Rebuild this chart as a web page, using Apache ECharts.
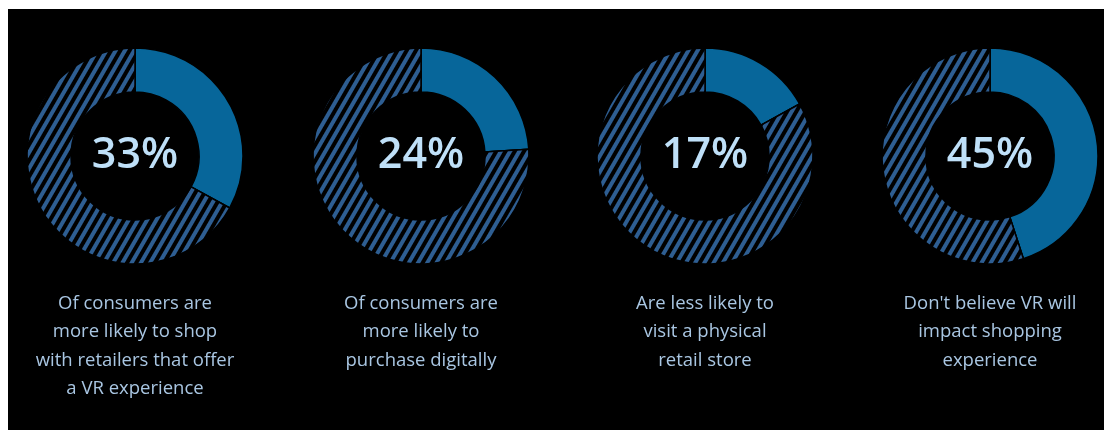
<!DOCTYPE html>
<html>
<head>
<meta charset="utf-8">
<script src="https://cdn.jsdelivr.net/npm/echarts@6/dist/echarts.min.js"></script>
<style>
html,body{margin:0;padding:0;background:#ffffff;}
#c{position:absolute;left:8px;top:9px;width:1096px;height:421px;background:#000;}
</style>
</head>
<body>
<div id="c"></div>
<script>
const values = [33, 24, 17, 45];
const percentLabels = ['33%', '24%', '17%', '45%'];
const captions = [
  ['Of consumers are', 'more likely to shop', 'with retailers that offer', 'a VR experience'],
  ['Of consumers are', 'more likely to', 'purchase digitally'],
  ['Are less likely to', 'visit a physical', 'retail store'],
  ["Don't believe VR will", 'impact shopping', 'experience']
];

const chart = echarts.init(document.getElementById('c'), null, {renderer: 'canvas'});
const centersX = [127, 413, 697, 982];
const centerY = 147;
const series = [];
const graphics = [];
values.forEach((v, i) => {
  series.push({
    type: 'pie',
    center: [centersX[i], centerY],
    radius: [64, 108],
    startAngle: 90,
    clockwise: true,
    silent: true,
    label: {show: false},
    labelLine: {show: false},
    itemStyle: {borderColor: '#000', borderWidth: 1.5},
    data: [
      {value: v, itemStyle: {color: '#07669a'}},
      {value: 100 - v, itemStyle: {
        color: '#000',
        decal: {
          symbol: 'rect',
          symbolSize: 1,
          dashArrayX: [1, 0],
          dashArrayY: [3.5, 3.5],
          rotation: -Math.PI / 3,
          color: '#2e5e92'
        }
      }}
    ]
  });
  graphics.push({
    type: 'text',
    x: centersX[i],
    y: centerY,
    style: {
      text: percentLabels[i],
      x: 0, y: 0,
      align: 'center',
      verticalAlign: 'middle',
      fill: '#bfe0f8',
      font: '600 43px "Open Sans"'
    }
  });
  graphics.push({
    type: 'text',
    x: centersX[i],
    y: 280,
    style: {
      text: captions[i].join('\n'),
      x: 0, y: 0,
      align: 'center',
      verticalAlign: 'top',
      lineHeight: 28.5,
      fill: '#a9c6e2',
      font: '18.5px "Open Sans"'
    }
  });
});

chart.setOption({
  backgroundColor: '#000',
  animation: false,
  aria: {enabled: false, decal: {show: false}},
  series: series,
  graphic: graphics
});
</script>
</body>
</html>
